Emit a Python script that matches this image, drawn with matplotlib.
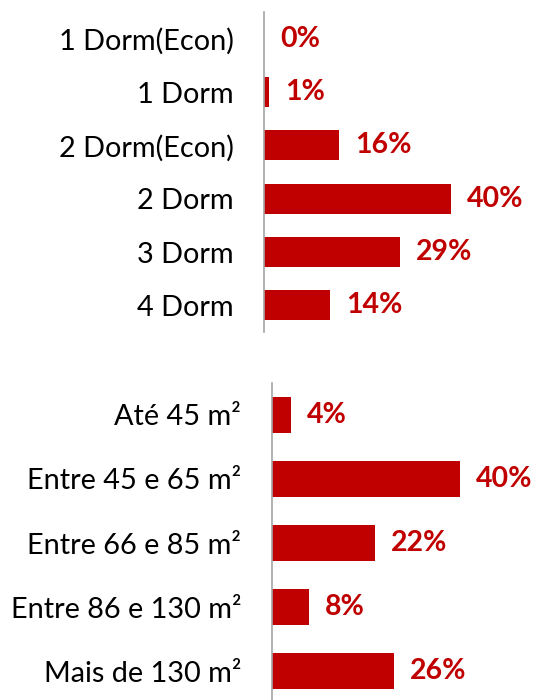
import matplotlib
matplotlib.use('Agg')
import matplotlib.pyplot as plt

RED = '#C00000'
AXIS_GRAY = '#A6A6A6'

dorm_labels = ['1 Dorm(Econ)', '1 Dorm', '2 Dorm(Econ)', '2 Dorm', '3 Dorm', '4 Dorm']
dorm_values = [0, 1, 16, 40, 29, 14]

area_labels = ['Até 45 m²', 'Entre 45 e 65 m²', 'Entre 66 e 85 m²',
               'Entre 86 e 130 m²', 'Mais de 130 m²']
area_values = [4, 40, 22, 8, 26]

plt.rcParams['font.family'] = ['Lato', 'DejaVu Sans']


def draw_bars(ax, labels, values, xmax):
    y = range(len(labels))
    ax.barh(y, values, height=0.56, color=RED)
    ax.set_ylim(len(labels) - 0.5, -0.5)
    ax.set_xlim(0, xmax)
    ax.set_yticks(list(y))
    ax.set_yticklabels(labels, fontsize=20.8, color='black')
    ax.tick_params(axis='y', length=0, pad=22)
    ax.set_xticks([])
    for side in ('top', 'right', 'bottom'):
        ax.spines[side].set_visible(False)
    ax.spines['left'].set_color(AXIS_GRAY)
    ax.spines['left'].set_linewidth(1.2)
    for yi, v in zip(y, values):
        ax.annotate(f'{v}%', xy=(v, yi), xytext=(11.5, 0), textcoords='offset points',
                    ha='left', va='center', fontsize=20.5, fontweight='bold', color=RED)


W, H = 533, 700
fig = plt.figure(figsize=(W / 100, H / 100), dpi=100)
fig.patch.set_facecolor('white')

ax1 = fig.add_axes([264.3 / W, 1 - 332 / H, (W - 264.3) / W, 320 / H])
draw_bars(ax1, dorm_labels, dorm_values, (W - 264.3) / 4.67)

ax2 = fig.add_axes([271.7 / W, 1 - 703 / H, (W - 271.7) / W, 320 / H])
draw_bars(ax2, area_labels, area_values, (W - 271.7) / 4.7)

fig.savefig('out.png', dpi=100)
